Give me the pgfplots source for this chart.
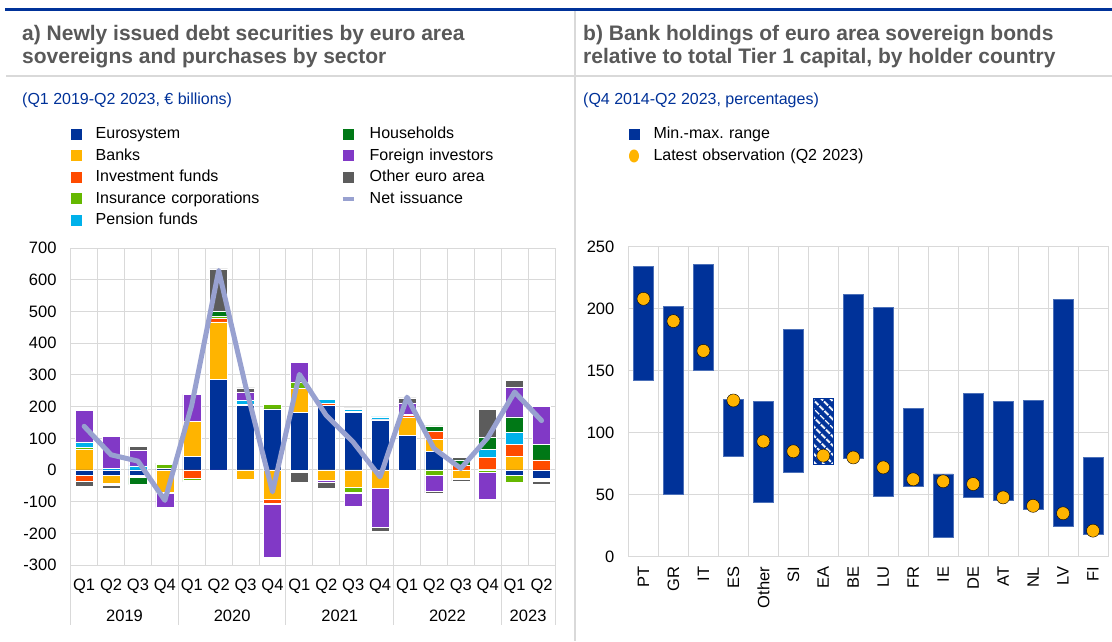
\documentclass[border=0pt]{standalone}
\usepackage{fontspec}
\setmainfont{Liberation Sans}
\usepackage{pgfplots}
\usepackage{pgfplotstable}
\pgfplotsset{compat=1.18}
\usetikzlibrary{patterns.meta}

\definecolor{ecbblue}{HTML}{003299}
\definecolor{cbanks}{HTML}{FFB400}
\definecolor{cinv}{HTML}{FF4B00}
\definecolor{cins}{HTML}{65B800}
\definecolor{cpen}{HTML}{00B1EA}
\definecolor{chh}{HTML}{007816}
\definecolor{cfor}{HTML}{8139C6}
\definecolor{coth}{HTML}{5C5C5C}
\definecolor{cnet}{HTML}{98A1D0}
\definecolor{gridc}{HTML}{D9D9D9}
\definecolor{titlegrey}{HTML}{595959}

% positive purchases by sector (EUR bn)
\pgfplotstableread{
x   E    B    I   S   P   H   F    O
0   0    66   0   6   17  0   99   0
1   0    0    0   0   6   0   101  0
2   0    0    0   0   13  0   48   13
3   4    0    0   13  0   0   0    5
4   42   111  0   0   0   0   86   0
5   287  181  11  7   0   14  0    135
6   203  0    4   0   14  0   26   12
7   193  0    0   14  0   0   0    0
8   181  77   0   20  0   0   62   0
9   205  0    5   0   13  4   0    0
10  183  0    3   0   6   0   0    4
11  158  0    2   0   8   0   0    0
12  110  58   4   3   0   0   37   16
13  58   39   24  0   0   18  0    0
14  0    0    16  0   0   16  0    7
15  0    3    37  0   26  36  0    90
16  0    44   37  0   37  50  92   24
17  0    0    32  0   0   50  118  0
}\postab
% negative purchases (net sales)
\pgfplotstableread{
x   E    B    I    S    P   H    F     O
0   -17  0    -17  0    0   0    0     -16
1   -16  -27  -2   -2   0   0    0     -12
2   -18  -3   -3   0    0   -22  0     0
3   0    -70  0    -2   0   0    -46   0
4   0    0    -27  -6   0   -4   0     0
5   0    0    0    0    0   0    -5    0
6   0    -28  0    -3   0   0    0     0
7   0    -93  -11  0    0   -4   -168  0
8   0    0    0    0    -3  -4   0     -33
9   0    -33  0    0    0   0    -7    -17
10  0    -55  0    -15  0   -4   -39   0
11  0    -58  0    0    0   0    -124  -10
12  0    0    0    0    0   0    0     0
13  0    0    0    -16  0   0    -52   -4
14  0    -27  0    -3   0   0    0     -4
15  0    0    0    -6   0   0    -86   0
16  -18  0    0    -22  0   0    0     0
17  -25  -3   0    -5   0   -3   0     -8
}\negtab
\pgfplotstableread{
x  N
0  138
1  48
2  28
3  -96
4  205
5  630
6  265
7  -69
8  302
9  172
10 88
11 -22
12 230
13 68
14 5
15 102
16 246
17 156
}\nettab
% panel b: min, max, latest (percentages)
\pgfplotstableread{
x  min    max    last
0  142    234    208
1  50.5   202    190
2  150.5  236    166
3  80.6   127    126
4  43.5   125    93
5  67.7   183.6  85
6  74.7   127.7  81.5
7  79     211.6  80
8  49     201    72
9  56.5   119.6  62.4
10 15.6   66.7   60.8
11 48     132    58.6
12 45.7   125    47.8
13 38     126    41
14 24.7   207.5  35
15 18.3   80     21
}\rngtab

\pgfplotsset{
  sqlegend/.style={legend image code/.code={\fill[##1, draw=none] (0pt,-5.5pt) rectangle (11pt,5.5pt);}},
  lnlegend/.style={legend image code/.code={\draw[##1] (0pt,0pt) -- (11pt,0pt);}},
  dotlegend/.style={legend image code/.code={\fill[##1, draw=none] (5.5pt,0pt) ellipse (5pt and 6.5pt);}},
  panel/.style={
    scale only axis,
    axis line style={gridc, line width=1pt},
    major tick length=0pt, minor tick length=0pt,
    grid style={gridc, line width=1pt},
    minor grid style={gridc, line width=1pt},
    tick label style={font=\fontsize{16.5}{19}\selectfont, text=black},
    /pgf/number format/assume math mode=true,
    yticklabel style={anchor=east, inner sep=0pt, xshift=-14pt},
    legend cell align=left,
    legend style={draw=none, fill=none, inner sep=0pt, outer sep=0pt,
      anchor=north west, row sep=6pt,
      font=\fontsize{16}{19}\selectfont,
      nodes={inner sep=0pt, text height=12pt, text depth=3.5pt, text width=245pt},
      /tikz/every odd column/.append style={column sep=14pt},
      /tikz/every even column/.append style={column sep=0pt}},
  },
  panelA/.style={panel,
    width=484.3pt, height=316.7pt,
    xmin=-0.5, xmax=17.5, ymin=-300, ymax=700,
    at={(70.7pt,76pt)}, anchor=south west,
  },
  panelB/.style={panel,
    width=479.5pt, height=310pt,
    xmin=-0.5, xmax=15.5, ymin=0, ymax=250,
    at={(628.5pt,84.3pt)}, anchor=south west,
  },
}

\begin{document}
\begin{tikzpicture}
\useasboundingbox (0,0) rectangle (1112pt,641pt);
\fill[white] (0,0) rectangle (1112pt,641pt);

% frame lines
\draw[ecbblue, line width=3pt] (5pt,631pt) -- (1112pt,631pt);
\draw[gridc, line width=2.5pt] (6pt,565pt) -- (1112pt,565pt);
\draw[gridc, line width=1.5pt] (575pt,629.5pt) -- (575pt,0pt);

% titles
\begin{scope}[every node/.style={anchor=base west, inner sep=0pt}]
\node[text=titlegrey, font=\bfseries\fontsize{21}{24}\selectfont] at (22pt,600.5pt) {a) Newly issued debt securities by euro area};
\node[text=titlegrey, font=\bfseries\fontsize{21}{24}\selectfont] at (22pt,577pt) {sovereigns and purchases by sector};
\node[text=titlegrey, font=\bfseries\fontsize{21}{24}\selectfont] at (583pt,600.5pt) {b) Bank holdings of euro area sovereign bonds};
\node[text=titlegrey, font=\bfseries\fontsize{21}{24}\selectfont] at (583pt,577pt) {relative to total Tier 1 capital, by holder country};
\node[text=ecbblue, font=\fontsize{16}{19}\selectfont] at (22pt,536pt) {(Q1 2019-Q2 2023, € billions)};
\node[text=ecbblue, font=\fontsize{16}{19}\selectfont] at (583pt,536pt) {(Q4 2014-Q2 2023, percentages)};
\end{scope}

% ---------- panel a: positive stacks, grid, labels, legend
\begin{axis}[panelA,
  ybar stacked, bar width=18pt,
  ytick distance=100,
  xtick={0,...,17},
  xticklabels={Q1,Q2,Q3,Q4,Q1,Q2,Q3,Q4,Q1,Q2,Q3,Q4,Q1,Q2,Q3,Q4,Q1,Q2},
  xticklabel style={anchor=base, inner sep=0pt, yshift=-25pt},
  minor xtick={-0.5,0.5,...,17.5},
  xminorgrids, ymajorgrids,
  extra x ticks={1.5,5.5,9.5,13.5,16.5},
  extra x tick labels={2019,2020,2021,2022,2023},
  extra x tick style={grid=none, tick label style={yshift=-31pt}},
  clip=false,
  legend columns=5, transpose legend,
  legend style={at={(0,1.384)}},
  every axis plot/.append style={draw=white, line width=0.5pt, forget plot},
]
\addplot[fill=ecbblue] table[x=x,y=E]{\postab};
\addplot[fill=cbanks] table[x=x,y=B]{\postab};
\addplot[fill=cinv] table[x=x,y=I]{\postab};
\addplot[fill=cins] table[x=x,y=S]{\postab};
\addplot[fill=cpen] table[x=x,y=P]{\postab};
\addplot[fill=chh] table[x=x,y=H]{\postab};
\addplot[fill=cfor] table[x=x,y=F]{\postab};
\addplot[fill=coth] table[x=x,y=O]{\postab};
\addlegendimage{sqlegend, fill=ecbblue}\addlegendentry{Eurosystem}
\addlegendimage{sqlegend, fill=cbanks}\addlegendentry{Banks}
\addlegendimage{sqlegend, fill=cinv}\addlegendentry{Investment funds}
\addlegendimage{sqlegend, fill=cins}\addlegendentry{Insurance corporations}
\addlegendimage{sqlegend, fill=cpen}\addlegendentry{Pension funds}
\addlegendimage{sqlegend, fill=chh}\addlegendentry{Households}
\addlegendimage{sqlegend, fill=cfor}\addlegendentry{Foreign investors}
\addlegendimage{sqlegend, fill=coth}\addlegendentry{Other euro area}
\addlegendimage{lnlegend, cnet, line width=4pt}\addlegendentry{Net issuance}
\pgfplotsinvokeforeach{-0.5,3.5,7.5,11.5,15.5,17.5}{
  \draw[gridc, line width=1pt] (axis cs:#1,-300) -- ++(0pt,-60pt);
}
\end{axis}

% ---------- panel a: negative stacks
\begin{axis}[panelA, hide axis,
  ybar stacked, bar width=18pt,
  every axis plot/.append style={draw=white, line width=0.5pt},
]
\addplot[fill=ecbblue] table[x=x,y=E]{\negtab};
\addplot[fill=cbanks] table[x=x,y=B]{\negtab};
\addplot[fill=cinv] table[x=x,y=I]{\negtab};
\addplot[fill=cins] table[x=x,y=S]{\negtab};
\addplot[fill=cpen] table[x=x,y=P]{\negtab};
\addplot[fill=chh] table[x=x,y=H]{\negtab};
\addplot[fill=cfor] table[x=x,y=F]{\negtab};
\addplot[fill=coth] table[x=x,y=O]{\negtab};
\end{axis}

% ---------- panel a: net issuance line
\begin{axis}[panelA, hide axis]
\addplot[cnet, line width=5pt, line join=round, line cap=round] table[x=x,y=N]{\nettab};
\end{axis}

% ---------- panel b: min-max ranges
\begin{axis}[panelB,
  ybar stacked, bar width=20pt,
  ytick distance=50,
  xtick={0,...,15},
  xticklabels={PT,GR,IT,ES,Other,SI,EA,BE,LU,FR,IE,DE,AT,NL,LV,FI},
  xticklabel style={rotate=90, anchor=east, inner sep=0pt, xshift=-10pt},
  minor xtick={-0.5,0.5,...,15.5},
  xminorgrids, ymajorgrids,
]
\addplot[draw=none, fill=none] table[x=x,y=min]{\rngtab};
\addplot[draw=ecbblue!70!white, line width=0.6pt, fill=ecbblue] table[x=x,y expr={\thisrow{x}==6 ? 0 : \thisrow{max}-\thisrow{min}}]{\rngtab};
\addplot[draw=ecbblue, line width=0.6pt, fill=ecbblue,
  postaction={pattern={Lines[angle=-45,distance=6.5pt,line width=2.2pt]}, pattern color=white}]
  table[x=x,y expr={\thisrow{x}==6 ? \thisrow{max}-\thisrow{min} : 0}]{\rngtab};
\end{axis}

% ---------- panel b: latest observation and legend
\begin{axis}[panelB, hide axis,
  legend columns=1,
  legend style={at={(0,1.387)}},
]
\addlegendimage{sqlegend, fill=ecbblue}\addlegendentry{Min.-max.\ range}
\addlegendimage{dotlegend, fill=cbanks}\addlegendentry{Latest observation (Q2 2023)}
\addplot[forget plot, only marks, mark=*, mark size=6.5pt, mark options={draw=none, fill=cbanks}] table[x=x,y=last]{\rngtab};
\end{axis}
\end{tikzpicture}
\end{document}
